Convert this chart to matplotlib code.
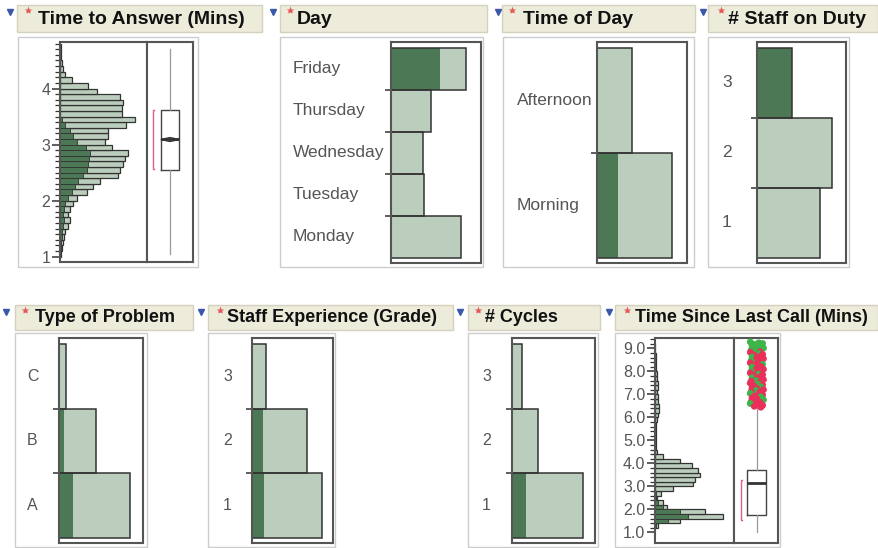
import numpy as np
import matplotlib.pyplot as plt
from matplotlib.patches import Rectangle
from matplotlib.transforms import blended_transform_factory

plt.rcParams['font.family'] = ['Liberation Sans', 'DejaVu Sans']

# ---------------- data ----------------
# Time to Answer (Mins): 0.1 wide bins, bottom (1.0) to top
answer_bin_start = 1.0
answer_bin_w = 0.1
answer_counts = [1, 2, 3, 4, 5, 8, 10, 8, 10, 13, 17, 27, 33, 40, 58, 60, 63, 65, 68, 52,
                 45, 48, 48, 66, 75, 62, 62, 63, 60, 37, 28, 12, 5, 3.5, 2, 1.5, 1, 1]
answer_sel = [0.5, 1, 1, 2, 2, 3, 4, 3, 4, 5, 8, 12, 15, 18, 23, 27, 28, 29, 30, 26,
              17, 13, 10, 5, 2, 0, 0, 0, 0, 0, 0, 0, 0, 0, 0, 0, 0, 0]
answer_q1, answer_med, answer_q3 = 2.55, 3.10, 3.61
answer_lo, answer_hi = 1.05, 4.71
answer_mean, answer_ci = 3.09, 0.035
answer_short = (2.57, 3.62)

# Time Since Last Call (Mins): 0.2 wide bins, bottom (1.2) to top
since_bin_start = 1.2
since_bin_w = 0.2
since_counts = [3, 25, 68, 50, 12, 8, 2, 6, 18, 38, 40, 45, 43, 37, 25, 8, 2, 1, 1, 1,
                1, 1.5, 1.5, 2, 3, 4, 4, 3.5, 3, 2.5, 3, 3, 2, 2, 1.5, 1, 1, 1, 0.5, 0.5]
since_sel = [1, 13, 33, 25, 8, 3, 1, 1, 0, 0, 0, 0, 0, 0, 0, 0, 0, 0, 0, 0,
             0, 0, 0, 0, 0, 0, 0, 0, 0, 0, 0, 0, 0, 0, 0, 0, 0, 0, 0, 0]
since_q1, since_med, since_q3 = 1.75, 3.13, 3.71
since_lo, since_hi = 1.03, 6.40
since_short = (1.54, 3.27)
since_outliers = [9.28, 9.24, 9.21, 9.17, 9.13, 9.1, 9.05, 9.01, 8.97, 8.92,
                  8.86, 8.83, 8.78, 8.74, 8.71, 8.66, 8.62, 8.58, 8.55, 8.5,
                  8.46, 8.41, 8.37, 8.33, 8.3, 8.25, 8.21, 8.18, 8.12, 8.09,
                  8.05, 8.0, 7.97, 7.93, 7.88, 7.85, 7.8, 7.77, 7.72, 7.69,
                  7.64, 7.6, 7.57, 7.52, 7.49, 7.44, 7.41, 7.36, 7.33, 7.28,
                  7.25, 7.2, 7.17, 7.12, 7.09, 7.04, 7.0, 6.97, 6.92, 6.89,
                  6.84, 6.81, 6.76, 6.73, 6.68, 6.65, 6.6, 6.57, 6.52, 6.48, 6.44]
since_outlier_grp = ['g'] * 10 + ['r', 'r', 'g', 'r', 'r', 'r', 'g', 'r', 'r', 'r',
                                  'g', 'r', 'r', 'r', 'g', 'r', 'r', 'g', 'r', 'r',
                                  'r', 'g', 'r', 'r', 'g', 'r', 'r', 'r', 'g', 'r',
                                  'r', 'g', 'r', 'r', 'r', 'g', 'r', 'r', 'g', 'r',
                                  'r', 'r', 'g', 'r', 'r', 'g', 'r', 'r', 'r', 'g',
                                  'r', 'r', 'g', 'r', 'r', 'r', 'g', 'r', 'r', 'r', 'r']

day_cats = ['Monday', 'Tuesday', 'Wednesday', 'Thursday', 'Friday']
day_counts = [70, 33, 32, 40, 75]
day_sel = [0, 0, 0, 0, 49]

tod_cats = ['Morning', 'Afternoon']
tod_counts = [75, 35]
tod_sel = [21, 0]

staff_cats = ['1', '2', '3']
staff_counts = [63, 75, 35]
staff_sel = [0, 0, 35]

problem_cats = ['A', 'B', 'C']
problem_counts = [71, 37, 7]
problem_sel = [14, 5, 1]

grade_cats = ['1', '2', '3']
grade_counts = [70, 55, 14]
grade_sel = [12, 11, 0]

cycles_cats = ['1', '2', '3']
cycles_counts = [71, 26, 10]
cycles_sel = [14, 0, 0]

# ---------------- style ----------------
LIGHT = '#BBCEBD'
DARK = '#4D7855'
EDGE = '#333333'
FRAME = '#555555'
HEAD_BG = '#EDEBDA'
HEAD_EDGE = '#D4D1BE'
PANEL_EDGE = '#CCCCCC'
TXT = '#555555'
RED = '#E0607E'

W, H = 879, 548
fig = plt.figure(figsize=(8.79, 5.48), dpi=100)

bg = fig.add_axes([0, 0, 1, 1])
bg.set_xlim(0, W)
bg.set_ylim(H, 0)
bg.axis('off')
bg.set_zorder(-1)


def px_axes(x0, y0, x1, y1):
    ax = fig.add_axes([x0 / W, 1 - y1 / H, (x1 - x0) / W, (y1 - y0) / H])
    for s in ax.spines.values():
        s.set_color(FRAME)
        s.set_linewidth(1.5)
    ax.set_xticks([])
    return ax


def header(x0, x1, y0, y1, tri_x, star_x, title_x, title, size=13):
    bg.add_patch(Rectangle((x0, y0), x1 - x0, y1 - y0, facecolor=HEAD_BG,
                           edgecolor=HEAD_EDGE, lw=1))
    bg.plot(tri_x, y0 + 7, marker='v', ms=5, color='#3A58A8')
    bg.plot(star_x, y0 + 5, marker='*', ms=6, color='#E45858', mec='none')
    bg.text(title_x, (y0 + y1) / 2 + 0.5, title, fontsize=size, fontweight='bold',
            va='center', ha='left', color='#111111')


def outer(x0, x1, y0, y1):
    bg.add_patch(Rectangle((x0, y0), x1 - x0, y1 - y0, facecolor='white',
                           edgecolor=PANEL_EDGE, lw=1))


def cat_panel(frame, label_x, cats, counts, sel, size=11.5):
    x0, y0, x1, y1 = frame
    ax = px_axes(*frame)
    n = len(cats)
    pos = np.arange(n)
    unit = (y1 - y0 - 11.5) / n
    ax.set_ylim(-0.5 - 5.5 / unit, n - 0.5 + 6 / unit)
    ax.set_xlim(0, x1 - x0)
    ax.barh(pos, counts, height=1, color=LIGHT, edgecolor='none')
    ax.barh(pos, sel, height=1, color=DARK, edgecolor='none')
    ax.barh(pos, counts, height=1, fill=False, edgecolor=EDGE, lw=1.1)
    ax.set_yticks([])
    ax.set_yticks(pos[:-1] + 0.5, minor=True)
    ax.tick_params(axis='y', which='minor', length=4.5, width=1.1, color=EDGE)
    tr = blended_transform_factory(fig.transFigure, ax.transData)
    for p, c in zip(pos, cats):
        ax.text(label_x / W, p, c, transform=tr, ha='left', va='center',
                fontsize=size, color=TXT)
    return ax


def hist_panel(frame, ylim, start, bw, counts, sel, majors, fmt):
    x0, y0, x1, y1 = frame
    ax = px_axes(*frame)
    edges = start + bw * np.arange(len(counts))
    ax.barh(edges, counts, height=bw, align='edge', color=LIGHT, edgecolor=EDGE, lw=0.9)
    ax.barh(edges, sel, height=bw, align='edge', color=DARK, edgecolor=EDGE, lw=0.6)
    ax.set_xlim(0, x1 - x0)
    ax.set_ylim(*ylim)
    ax.set_yticks(majors)
    ax.set_yticklabels([fmt % m for m in majors])
    minors = np.arange(majors[0], ylim[1], bw)
    ax.set_yticks(minors, minor=True)
    ax.tick_params(axis='y', which='major', length=6, width=1.1, color=EDGE,
                   labelsize=11.5, labelcolor=TXT, pad=1)
    ax.tick_params(axis='y', which='minor', length=3.5, width=0.9, color=EDGE)
    return ax


def box_panel(frame, ylim, q1, med, q3, lo, hi, short, xc, bw):
    ax = px_axes(*frame)
    ax.set_xlim(0, 1)
    ax.set_ylim(*ylim)
    ax.set_yticks([])
    stats = [{'q1': q1, 'med': med, 'q3': q3, 'whislo': lo, 'whishi': hi, 'fliers': []}]
    ax.bxp(stats, positions=[xc], widths=bw, showcaps=False, manage_ticks=False,
           boxprops=dict(color='#444444', lw=1),
           whiskerprops=dict(color='#999999', lw=0.9),
           medianprops=dict(color='#333333', lw=2))
    bx = 0.12 if xc < 0.51 else 0.15
    ax.plot([bx + 0.04, bx, bx, bx + 0.04], [short[0], short[0], short[1], short[1]],
            color=RED, lw=1)
    ax.set_xticks([])
    return ax


# ---------------- top row ----------------
outer(18, 198, 37, 267)
header(17, 262, 5, 32, 10, 28, 38, 'Time to Answer (Mins)', 14)
ans_ylim = (0.905, 4.83)
hist_panel((60, 42, 147, 262), ans_ylim, answer_bin_start, answer_bin_w,
           answer_counts, answer_sel, [1, 2, 3, 4], '%d')
ax_ab = box_panel((147, 42, 193, 262), ans_ylim, answer_q1, answer_med, answer_q3,
                  answer_lo, answer_hi, answer_short, 0.5, 0.41)
ax_ab.fill([0.3, 0.5, 0.7, 0.5],
           [answer_mean, answer_mean + answer_ci, answer_mean, answer_mean - answer_ci],
           facecolor='none', edgecolor='#333333', lw=1)

outer(280, 483, 37, 267)
header(280, 487, 5, 32, 273, 290, 297, 'Day', 14)
cat_panel((391, 42, 481, 263), 293, day_cats, day_counts, day_sel, 12.5)

outer(503, 694, 37, 267)
header(502, 695, 5, 32, 498, 512, 523, 'Time of Day', 14)
cat_panel((597, 42, 687, 263), 517, tod_cats, tod_counts, tod_sel, 12.5)

outer(708, 849, 37, 267)
header(708, 878, 5, 32, 703, 721, 728, '# Staff on Duty', 14)
cat_panel((757, 42, 846, 263), 722, staff_cats, staff_counts, staff_sel, 12.5)

# ---------------- bottom row ----------------
outer(15, 147, 333, 547)
header(15, 193, 305, 330, 6, 25, 35, 'Type of Problem')
cat_panel((59, 338, 143, 543), 27, problem_cats, problem_counts, problem_sel)

outer(208, 335, 333, 547)
header(208, 453, 305, 330, 201, 220, 227, 'Staff Experience (Grade)')
cat_panel((252, 338, 333, 543), 223, grade_cats, grade_counts, grade_sel)

outer(468, 598, 333, 547)
header(468, 600, 305, 330, 460, 478, 485, '# Cycles')
cat_panel((512, 338, 595, 543), 482, cycles_cats, cycles_counts, cycles_sel)

outer(615, 780, 333, 547)
header(615, 878, 305, 330, 609, 627, 635, 'Time Since Last Call (Mins)')
since_ylim = (0.535, 9.45)
hist_panel((655, 338, 734, 543), since_ylim, since_bin_start, since_bin_w,
           since_counts, since_sel, [1, 2, 3, 4, 5, 6, 7, 8, 9], '%.1f')
ax_sb = box_panel((734, 338, 778, 543), since_ylim, since_q1, since_med, since_q3,
                  since_lo, since_hi, since_short, 0.52, 0.43)
jitter = [-0.15, 0.04, 0.13, -0.06, 0.09, -0.11, 0.0, 0.15, -0.02, -0.13, 0.07]
ox = [0.52 + jitter[i % len(jitter)] for i in range(len(since_outliers))]
oc = ['#3DB54A' if g == 'g' else '#E8305A' for g in since_outlier_grp]
ax_sb.scatter(ox, since_outliers, s=24, c=oc, linewidths=0, zorder=3)

fig.savefig('out.png', dpi=100, facecolor='white')
